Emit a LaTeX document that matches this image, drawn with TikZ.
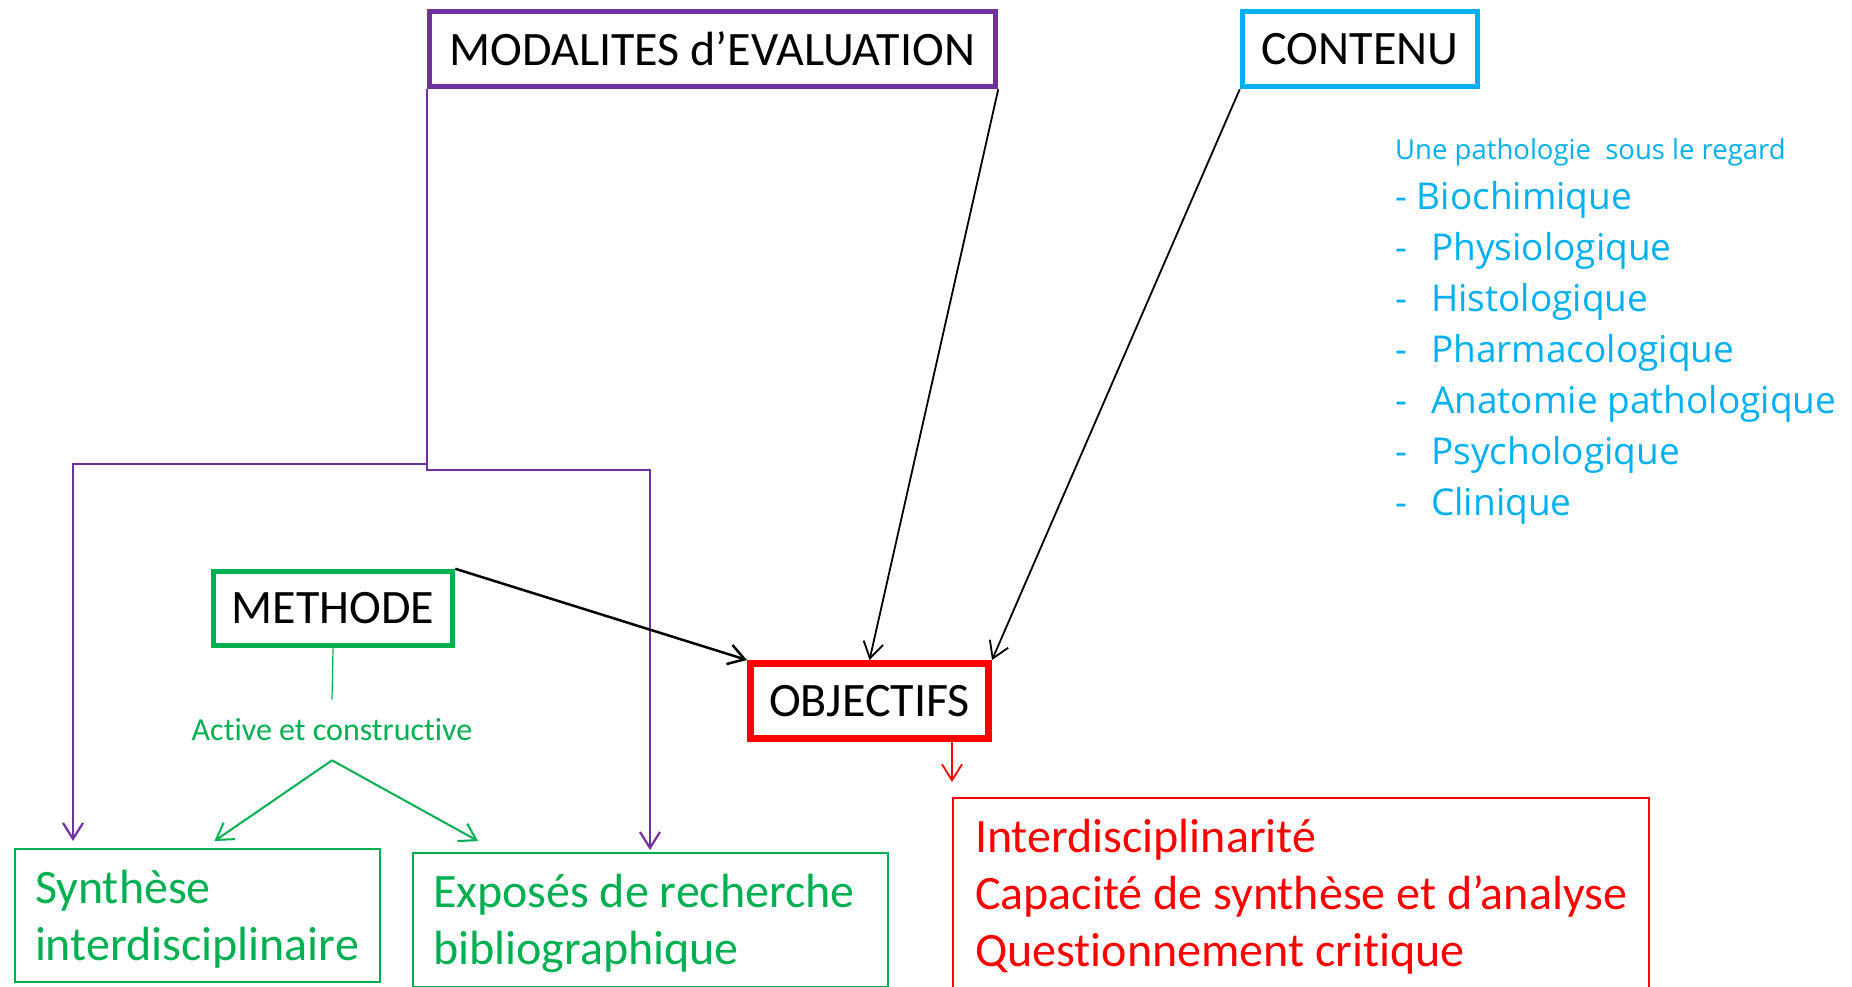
\documentclass[tikz,border=0pt]{standalone}
\usepackage{fontspec}
\setmainfont{Carlito}[Ligatures=NoCommon]
\newfontfamily\bluefont{Open Sans}
\usepackage{tikz}
\usetikzlibrary{arrows.meta}
\definecolor{modviolet}{HTML}{7030A0}
\definecolor{contcyan}{HTML}{00B0F0}
\definecolor{methgreen}{HTML}{00B050}
\definecolor{objred}{HTML}{FF0000}

\begin{document}
\begin{tikzpicture}[x=1pt,y=-1pt]
\tikzstyle{every node}+=[inner sep=0pt]
\tikzstyle{headbox}=[draw,line width=5.5pt,minimum height=75pt,font=\fontsize{48}{57}\selectfont]
\tikzstyle{listbox}=[draw,line width=2pt,inner xsep=20pt,align=flush left,font=\fontsize{48}{57}\selectfont]
\tikzstyle{bluelist}=[text=contcyan,anchor=base west,font=\bluefont\fontsize{37}{44}\selectfont]
\tikzstyle{barb}=[-{Straight Barb[length=16pt,width=20pt]}]
\useasboundingbox (0,0) rectangle (1852,986);
\clip (0,0) rectangle (1852,986);
\node[headbox,draw=modviolet,minimum width=566pt] (modal) at (712.5,49) {MODALITES d’EVALUATION};
\node[headbox,draw=contcyan,minimum width=235pt] (contenu) at (1360,49) {CONTENU};
\node[headbox,draw=methgreen,minimum width=239pt,minimum height=74pt] (methode) at (333,608.5) {METHODE};
\node[headbox,draw=objred,line width=7pt,minimum width=238pt] (objectifs) at (869.5,701) {OBJECTIFS};
\node[text=methgreen,font=\fontsize{32}{38}\selectfont,inner sep=19pt] (active) at (332,730) {Active et constructive};
\node[listbox,draw=methgreen,text=methgreen,text width=325pt,minimum height=133pt] (synth) at (197.5,915.5) {\strut Synthèse\\interdisciplinaire};
\node[listbox,draw=methgreen,text=methgreen,text width=435pt,minimum height=134pt] (expo) at (650.5,920) {\strut Exposés de recherche\\bibliographique};
\node[listbox,draw=objred,text=objred,minimum width=696pt,minimum height=191pt] (rbox) at (1301,893.5) {\strut Interdisciplinarité\\Capacité de synthèse et d’analyse\\Questionnement critique};
\node[text=contcyan,anchor=base west,font=\bluefont\fontsize{27.5}{33}\selectfont] (regard) at (1395,159) {Une pathologie\ \ sous le regard};
\node[bluelist] (c1) at (1395,209) {-~Biochimique};
\foreach \w [count=\i from 2] in {Physiologique,Histologique,Pharmacologique,Anatomie pathologique,Psychologique,Clinique}
  \node[bluelist] (c\i) at (1395,{209+(\i-1)*51}) {\makebox[36pt][l]{-}\w};
\draw[modviolet,line width=2.2pt,barb,shorten >=7pt] (modal.south west) -- (modal.south west |- 0,464) -| ([xshift=59pt]synth.north west);
\draw[modviolet,line width=2.2pt,barb,shorten >=2pt] (modal.south west) -- (modal.south west |- 0,470) -| ([xshift=238pt]expo.north west);
\draw[barb,line width=2.5pt] (methode.north east) -- (objectifs.north west);
\draw[barb,line width=1.8pt] (modal.south east) -- (objectifs.north);
\draw[barb,line width=1.8pt] (contenu.south west) -- (objectifs.north east);
\draw[objred,barb,line width=1.8pt] (rbox.north west |- objectifs.south) -- ([yshift=15pt]rbox.north west);
\draw[methgreen,line width=1.2pt] (methode.south) -- (active.north);
\draw[methgreen,barb,line width=2pt] (active.south) -- ([xshift=17pt,yshift=7pt]synth.north);
\draw[methgreen,barb,line width=2pt] (active.south) -- ([xshift=66pt,yshift=11pt]expo.north west);
\end{tikzpicture}
\end{document}
